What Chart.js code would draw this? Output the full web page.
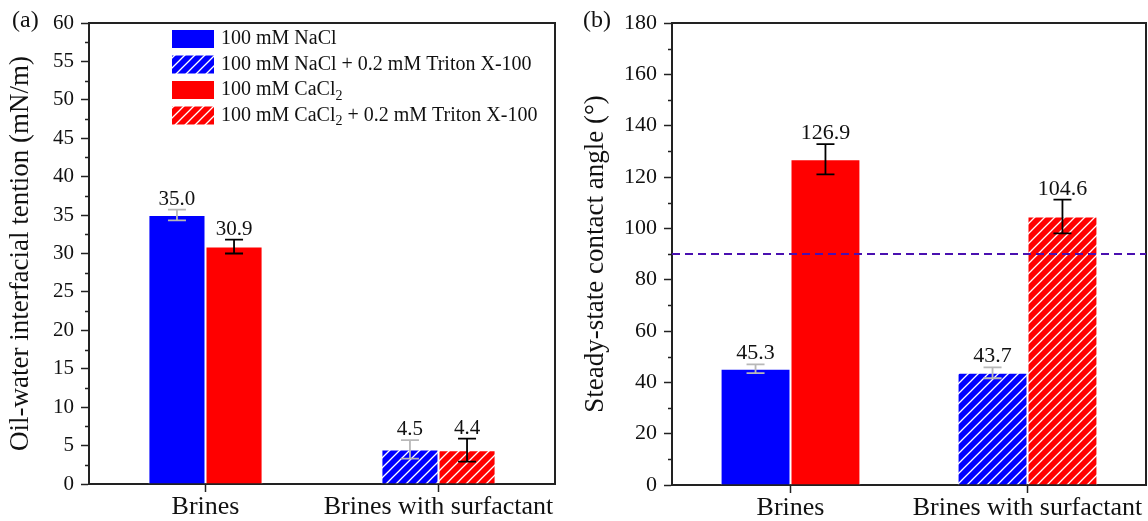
<!DOCTYPE html>
<html>
<head>
<meta charset="utf-8">
<title>IFT and contact angle</title>
<script src="https://cdn.jsdelivr.net/npm/chart.js"></script>
<style>
  html, body { margin: 0; padding: 0; background: #fff; }
  .panel { position: absolute; top: 0; }
</style>
</head>
<body>
<div class="panel" style="left:0px"><canvas id="iftChart" width="572" height="521"></canvas></div>
<div class="panel" style="left:572px"><canvas id="angleChart" width="576" height="521"></canvas></div>
<script>
// categories and series
var categories = ['Brines', 'Brines with surfactant'];
var legendNames = ['100 mM NaCl', '100 mM NaCl + 0.2 mM Triton X-100', '100 mM CaCl_2', '100 mM CaCl_2 + 0.2 mM Triton X-100'];

// (a) interfacial tension, mN/m
var iftNaCl = [35.0, 4.5];
var iftNaClErr = [0.7, 1.2];
var iftCaCl2 = [30.9, 4.4];
var iftCaCl2Err = [0.9, 1.5];
var iftTicks = [0, 5, 10, 15, 20, 25, 30, 35, 40, 45, 50, 55, 60];

// (b) contact angle, degrees
var angleNaCl = [45.3, 43.7];
var angleNaClErr = [1.7, 2.1];
var angleCaCl2 = [126.9, 104.6];
var angleCaCl2Err = [5.9, 6.6];
var angleTicks = [0, 20, 40, 60, 80, 100, 120, 140, 160, 180];
var angleRef = 90;

var FONT = '"Liberation Serif", "Times New Roman", serif';
var BLUE = '#0000ff', RED = '#ff0000', INK = '#111';

function hatch(color) {
    var c = document.createElement('canvas');
    c.width = 10; c.height = 10;
    var g = c.getContext('2d');
    g.fillStyle = color;
    g.fillRect(0, 0, 10, 10);
    g.strokeStyle = '#fff';
    g.lineWidth = 1.3;
    g.beginPath();
    g.moveTo(0, 10); g.lineTo(10, 0);
    g.moveTo(-2, 2); g.lineTo(2, -2);
    g.moveTo(8, 12); g.lineTo(12, 8);
    g.stroke();
    return g.createPattern(c, 'repeat');
}
var blueHatch = hatch(BLUE);
var redHatch = hatch(RED);

// draws frame, minor ticks, error bars, value labels, extras
var decorPlugin = {
    id: 'decor',
    afterDatasetsDraw: function (chart, args, opts) {
        var ctx = chart.ctx, a = chart.chartArea;
        var y = chart.scales.y;
        ctx.save();
        // top and right frame
        ctx.strokeStyle = '#222';
        ctx.lineWidth = 2;
        ctx.beginPath();
        ctx.moveTo(a.left, a.top); ctx.lineTo(a.right, a.top); ctx.lineTo(a.right, a.bottom);
        ctx.stroke();
        // minor ticks
        ctx.lineWidth = 1.5;
        ctx.beginPath();
        for (var v = y.min + opts.minor; v < y.max; v += 2 * opts.minor) {
            var py = Math.round(y.getPixelForValue(v)) + 0.5;
            ctx.moveTo(a.left - 4, py); ctx.lineTo(a.left, py);
        }
        ctx.stroke();
        // reference line
        if (opts.refLine !== undefined) {
            var ry = y.getPixelForValue(opts.refLine);
            ctx.strokeStyle = '#4a10b0';
            ctx.lineWidth = 2;
            ctx.setLineDash([8, 5]);
            ctx.beginPath();
            ctx.moveTo(a.left, ry); ctx.lineTo(a.right, ry);
            ctx.stroke();
            ctx.setLineDash([]);
        }
        // error bars and labels
        chart.data.datasets.forEach(function (ds, di) {
            var meta = chart.getDatasetMeta(di);
            meta.data.forEach(function (bar, i) {
                var val = ds.data[i], err = ds.errors[i];
                var top = y.getPixelForValue(val + err), bot = y.getPixelForValue(val - err);
                ctx.strokeStyle = ds.errorColor;
                ctx.lineWidth = 1.8;
                ctx.beginPath();
                ctx.moveTo(bar.x, top); ctx.lineTo(bar.x, bot);
                ctx.moveTo(bar.x - 9, top); ctx.lineTo(bar.x + 9, top);
                ctx.moveTo(bar.x - 9, bot); ctx.lineTo(bar.x + 9, bot);
                ctx.stroke();
                ctx.fillStyle = INK;
                ctx.font = opts.valueSize + 'px ' + FONT;
                ctx.textAlign = 'center';
                ctx.textBaseline = 'alphabetic';
                ctx.fillText(val.toFixed(1), bar.x, top - 5);
            });
        });
        // panel letter
        ctx.fillStyle = INK;
        ctx.font = '24px ' + FONT;
        ctx.textAlign = 'left';
        ctx.textBaseline = 'middle';
        ctx.fillText(opts.letter, opts.letterX, 21);
        ctx.restore();
    }
};

function drawRich(ctx, text, x, yc) {
    var parts = text.split('_');
    ctx.textAlign = 'left';
    ctx.textBaseline = 'middle';
    ctx.font = '20px ' + FONT;
    ctx.fillText(parts[0], x, yc);
    if (parts.length > 1) {
        x += ctx.measureText(parts[0]).width;
        ctx.font = '14px ' + FONT;
        ctx.fillText(parts[1].charAt(0), x, yc + 6);
        x += ctx.measureText(parts[1].charAt(0)).width;
        ctx.font = '20px ' + FONT;
        ctx.fillText(parts[1].slice(1), x, yc);
    }
}

var legendPlugin = {
    id: 'boxLegend',
    afterDraw: function (chart) {
        var ctx = chart.ctx, a = chart.chartArea;
        var fills = [BLUE, blueHatch, RED, redHatch];
        ctx.save();
        legendNames.forEach(function (name, i) {
            var yc = 39 + i * 25.5;
            var x0 = a.left + 83;
            ctx.fillStyle = fills[i];
            ctx.fillRect(x0, yc - 9, 42, 18);
            ctx.fillStyle = INK;
            drawRich(ctx, name, x0 + 49, yc);
        });
        ctx.restore();
    }
};

function makeOptions(cfg) {
    return {
        responsive: false,
        animation: false,
        layout: { padding: { top: 23, right: cfg.padRight, left: 0, bottom: 0 } },
        plugins: {
            legend: { display: false },
            tooltip: { enabled: false },
            decor: { minor: cfg.minor, letter: cfg.letter, letterX: cfg.letterX, refLine: cfg.refLine, valueSize: cfg.valueSize }
        },
        scales: {
            x: {
                grid: { display: true, drawOnChartArea: false, offset: false, tickLength: 8, tickWidth: 1.5, tickColor: '#222' },
                border: { color: '#222', width: 2 },
                ticks: { color: INK, font: { family: FONT, size: 26 }, padding: 0, maxRotation: 0 },
                afterFit: function (s) { s.height = cfg.xHeight; }
            },
            y: {
                min: cfg.ticks[0],
                max: cfg.ticks[cfg.ticks.length - 1],
                afterBuildTicks: function (s) { s.ticks = cfg.ticks.map(function (v) { return { value: v }; }); },
                grid: { display: true, drawOnChartArea: false, tickLength: 8, tickWidth: 1.5, tickColor: '#222' },
                border: { color: '#222', width: 2 },
                ticks: { color: INK, font: { family: FONT, size: cfg.tickSize }, padding: 7 },
                title: { display: true, text: cfg.title, color: INK, font: { family: FONT, size: 27 }, padding: { top: cfg.titlePad, bottom: 0 } },
                afterFit: function (s) { s.width = cfg.yWidth; }
            }
        }
    };
}

function makeDatasets(v1, e1, v2, e2, barPct) {
    return [
        { data: v1, errors: e1, errorColor: '#b8b8b8', backgroundColor: [BLUE, blueHatch], borderColor: '#fff', borderWidth: 1, categoryPercentage: barPct, barPercentage: 1 },
        { data: v2, errors: e2, errorColor: '#000', backgroundColor: [RED, redHatch], borderColor: '#fff', borderWidth: 1, categoryPercentage: barPct, barPercentage: 1 }
    ];
}

new Chart('iftChart', {
    type: 'bar',
    data: { labels: categories, datasets: makeDatasets(iftNaCl, iftNaClErr, iftCaCl2, iftCaCl2Err, 0.49) },
    options: makeOptions({ ticks: iftTicks, minor: 2.5, tickSize: 21, valueSize: 21, title: 'Oil-water interfacial tention (mN/m)', titlePad: 5, yWidth: 89, xHeight: 37, padRight: 17, letter: '(a)', letterX: 12 }),
    plugins: [decorPlugin, legendPlugin]
});

new Chart('angleChart', {
    type: 'bar',
    data: { labels: categories, datasets: makeDatasets(angleNaCl, angleNaClErr, angleCaCl2, angleCaCl2Err, 0.59) },
    options: makeOptions({ ticks: angleTicks, minor: 10, tickSize: 22, valueSize: 22, title: 'Steady-state contact angle (°)', titlePad: 8, yWidth: 100, xHeight: 36, padRight: 2, letter: '(b)', letterX: 11, refLine: angleRef }),
    plugins: [decorPlugin]
});
</script>
</body>
</html>
